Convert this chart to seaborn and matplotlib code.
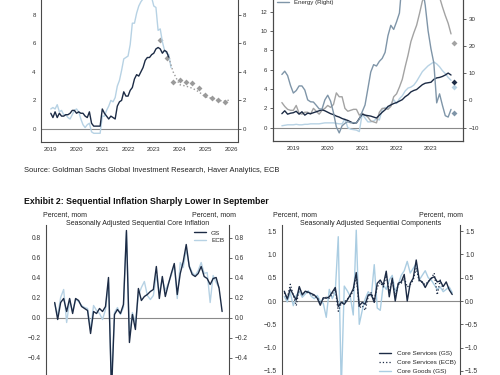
import numpy as np
import matplotlib
matplotlib.use("Agg")
import matplotlib.pyplot as plt
import seaborn as sns

# ---- Exhibit 1 left: headline / core HICP, % yoy (monthly from Jan 2019) ----
tl_headline = [1.4, 1.5, 1.4, 1.7, 1.2, 1.3, 1.0, 1.0, 0.8, 0.7, 1.0, 1.3,
               1.4, 1.2, 0.7, 0.3, 0.1, 0.3, 0.4, -0.2, -0.3, -0.3, -0.3, -0.3,
               0.9, 0.9, 1.3, 1.6, 2.0, 1.9, 2.2, 3.0, 3.4, 4.1, 4.9, 5.0,
               5.1, 5.9, 7.4, 7.4, 8.1, 8.6, 8.9, 9.1, 9.9, 10.6, 10.1, 9.2,
               8.6, 8.5, 6.9, 7.0, 6.1, 5.5, 5.3, 5.2, 4.3]
tl_core = [1.1, 0.8, 1.2, 0.8, 1.1, 0.9, 0.9, 1.0, 1.0, 1.1, 1.3, 1.3,
           1.1, 1.2, 1.1, 1.1, 0.9, 0.8, 1.2, 0.4, 0.2, 0.2, 0.2, 0.2,
           1.4, 1.1, 0.9, 0.7, 0.9, 0.8, 0.7, 1.6, 1.9, 2.0, 2.6, 2.3,
           2.3, 2.7, 2.9, 3.5, 3.8, 3.7, 4.0, 4.3, 4.8, 5.0, 5.0, 5.2,
           5.3, 5.6, 5.7, 5.6, 5.3, 5.5, 5.4, 5.0]
tl_fcst_x = [2023.58, 2023.75, 2024.0, 2024.25, 2024.5, 2024.75, 2025.0,
             2025.25, 2025.5, 2025.75, 2026.0]
tl_fcst = [5.0, 4.0, 3.1, 3.0, 2.85, 2.6, 2.25, 2.15, 2.0, 1.95, 2.05]
tl_proj_x = [2023.25, 2023.5, 2023.75, 2024.0, 2024.25, 2024.5, 2024.75,
             2025.0, 2025.25, 2025.5, 2025.75]
tl_proj = [6.2, 5.0, 3.3, 3.4, 3.3, 3.2, 2.9, 2.4, 2.2, 2.0, 1.9]
tl_years = [2019, 2020, 2021, 2022, 2023, 2024, 2025, 2026]

# ---- Exhibit 1 right: components, % yoy (monthly Sep 2018 - Aug 2023) ----
tr_services = [1.45, 1.75, 1.4, 1.5,
               1.55, 1.7, 1.4, 1.65, 1.3, 1.5, 1.45, 1.55, 1.65, 1.75, 1.85, 1.75,
               1.6, 1.45, 1.35, 1.2, 1.1, 0.95, 0.85, 0.75, 0.6, 0.45, 0.5, 0.95,
               1.4, 1.3, 1.25, 1.2, 1.1, 1.0, 1.3, 1.6, 1.85, 2.2, 2.35, 2.5,
               2.6, 2.75, 2.9, 3.2, 3.4, 3.7, 3.85, 3.95, 4.2, 4.45, 4.6, 4.65,
               4.7, 5.0, 5.15, 5.2, 5.3, 5.45, 5.65, 5.45]
tr_goods = [0.2, 0.25, 0.3, 0.3,
            0.3, 0.35, 0.3, 0.3, 0.35, 0.35, 0.4, 0.4, 0.4, 0.4, 0.45, 0.5,
            0.5, 0.5, 0.5, 0.45, 0.4, 0.4, 0.9, 0.0, -0.15, -0.2, -0.25, -0.4,
            1.4, 1.0, 0.6, 0.6, 0.7, 0.9, 0.8, 1.9, 2.1, 2.0, 2.4, 2.9,
            2.5, 3.0, 3.3, 3.8, 4.1, 4.2, 4.4, 4.8, 5.3, 5.8, 6.1, 6.4,
            6.6, 6.8, 6.6, 6.3, 5.9, 5.6, 5.2, 4.9]
tr_food = [2.6, 2.2, 1.9, 1.8,
           1.8, 2.3, 1.5, 1.4, 1.6, 1.6, 1.4, 2.0, 1.7, 1.4, 1.8, 2.0,
           2.3, 2.1, 2.4, 3.6, 3.2, 3.2, 2.0, 1.7, 1.8, 1.9, 1.9, 1.3,
           1.5, 1.3, 1.1, 0.7, 0.6, 0.5, 1.6, 2.0, 2.0, 1.9, 2.2, 3.2,
           3.5, 4.2, 5.0, 6.3, 7.5, 8.9, 9.8, 10.6, 11.8, 13.1, 13.6, 13.8,
           14.1, 15.0, 15.5, 13.5, 12.5, 11.6, 10.8, 9.7]
tr_energy = [9.5, 10.7, 9.1, 5.5,
             2.7, 3.6, 5.3, 5.3, 3.8, 0.2, -0.5, -0.6, -1.8, -3.1, -3.2, 0.2,
             1.9, -0.3, -4.5, -9.7, -11.9, -9.3, -8.4, -7.8, -8.2, -8.2, -8.3, -6.9,
             -4.2, -1.7, 4.3, 10.4, 13.1, 12.6, 14.3, 15.4, 17.6, 23.7, 27.5, 26.0,
             28.8, 32.0, 44.4, 37.5, 39.1, 42.0, 39.6, 38.6, 40.7, 41.5, 34.9, 25.5,
             18.9, 13.7, -0.9, 2.4, -1.8, -5.6, -6.1, -3.3]
tr_sep = {"services": 4.75, "goods": 4.2, "food": 8.8, "energy": -4.6}
tr_years = [2019, 2020, 2021, 2022, 2023]

# ---- Exhibit 2 left: sequential core, % mom SA (Jan 2019 - Sep 2023) ----
bl_gs = [0.15, -0.02, 0.15, 0.19, 0.06, 0.19, 0.04, 0.19, 0.17, 0.11, 0.09, 0.07,
         -0.16, 0.06, 0.04, 0.09, 0.06, 0.11, 0.40, -0.75, 0.03, 0.08, 0.04, 0.13,
         0.87, -0.25, 0.03, -0.12, 0.29, 0.17, 0.21, 0.23, 0.26, 0.28, 0.51, 0.19,
         0.41, 0.21, 0.33, 0.44, 0.54, 0.23, 0.44, 0.56, 0.73, 0.51, 0.43, 0.41,
         0.44, 0.51, 0.41, 0.39, 0.33, 0.39, 0.40, 0.29, 0.06]
bl_ecb = [0.14, 0.02, 0.20, 0.28, -0.05, 0.17, 0.06, 0.18, 0.16, 0.12, 0.10, 0.09,
          -0.12, 0.12, 0.07, 0.04, -0.02, 0.08, 0.35, -0.65, 0.05, 0.10, 0.03, 0.10,
          0.85, -0.18, 0.05, -0.06, 0.22, 0.30, 0.36, 0.22, 0.18, 0.22, 0.42, 0.25,
          0.38, 0.27, 0.34, 0.42, 0.52, 0.19, 0.55, 0.50, 0.68, 0.52, 0.45, 0.42,
          0.47, 0.55, 0.44, 0.45, 0.15, 0.42, 0.35, 0.30]

# ---- Exhibit 2 right: sequential components, % mom SA ----
br_serv_gs = [0.21, 0.04, 0.26, 0.13, 0.02, 0.31, 0.13, 0.21, 0.19, 0.16, 0.13, 0.06,
              -0.09, 0.07, 0.06, 0.09, 0.19, 0.29, -0.12, -0.03, -0.07, 0.02, 0.13, 0.26,
              0.61, -0.10, -0.03, -0.07, 0.13, 0.14, -0.03, 0.38, 0.45, 0.34, 0.64, 0.09,
              0.49, 0.00, 0.38, 0.41, 0.57, 0.00, 0.38, 0.49, 0.88, 0.45, 0.41, 0.29,
              0.41, 0.49, 0.52, 0.41, 0.43, 0.31, 0.41, 0.24, 0.14]
br_serv_ecb = [0.18, 0.06, 0.36, 0.12, -0.10, 0.28, 0.15, 0.20, 0.17, 0.15, 0.10, 0.08,
               -0.05, 0.05, 0.08, 0.06, 0.15, 0.25, -0.22, -0.05, -0.02, 0.04, 0.10, 0.22,
               0.55, -0.15, -0.10, -0.20, 0.10, 0.18, 0.02, 0.30, 0.40, 0.30, 0.55, 0.20,
               0.45, 0.10, 0.35, 0.38, 0.50, 0.30, 0.35, 0.45, 0.70, 0.42, 0.40, 0.35,
               0.42, 0.48, 0.60, 0.13, 0.45, 0.25]
br_goods_gs = [0.10, -0.02, 0.18, -0.10, 0.12, 0.20, 0.08, 0.15, 0.22, 0.10, 0.05, 0.12,
               0.00, -0.05, -0.35, 0.25, 0.05, 0.20, 1.38, -1.90, 0.32, 0.22, 0.10, -0.30,
               1.52, -0.50, -0.20, 0.05, 0.20, 0.10, 0.78, -0.15, -0.20, 0.35, 0.25, 0.45,
               0.55, 0.20, 0.35, 0.55, 0.65, 0.85, 0.60, 0.70, 0.80, 0.45, 0.55, 0.65,
               0.50, 0.45, 0.35, 0.25, 0.30, 0.20, 0.25, 0.30, 0.18]

NAVY = "#1c2b45"
LIGHT = "#b7d2e4"
GRAY = "#a3a3a3"
STEEL = "#7f95a8"
SPINE = "#4a4a4a"
ZERO = "#8a8a8a"

sns.set_style("white")
plt.rcParams["font.family"] = ["Liberation Sans", "DejaVu Sans"]

fig = plt.figure(figsize=(5, 3.75), dpi=100)


def px_axes(left, right, top, bottom):
    # pixel box (500x375 canvas) -> figure fraction
    return fig.add_axes([left / 500, 1 - bottom / 375,
                         (right - left) / 500, (bottom - top) / 375])


def style(ax, right_labels=True, size=4.4):
    for side in ["left", "right", "bottom"]:
        ax.spines[side].set_color(SPINE)
        ax.spines[side].set_linewidth(0.8)
        ax.spines[side].set_visible(True)
    ax.spines["top"].set_visible(False)
    ax.tick_params(axis="both", direction="out", length=2.2, width=0.6,
                   colors=SPINE, labelsize=size, pad=1.5, labelcolor="#333333")
    if right_labels:
        ax.tick_params(axis="y", right=True, labelright=True)
    ax.set_xlabel("")
    ax.set_ylabel("")


# ---------------- top left ----------------
ax1 = px_axes(41, 238, -30, 142)
x_tl = 2019 + np.arange(len(tl_headline)) / 12
x_core = 2019 + np.arange(len(tl_core)) / 12
ax1.axhline(0, color=ZERO, lw=0.8)
sns.lineplot(x=x_tl, y=tl_headline, ax=ax1, color=LIGHT, lw=1.0)
sns.lineplot(x=x_core, y=tl_core, ax=ax1, color=NAVY, lw=1.0)
sns.lineplot(x=tl_fcst_x, y=tl_fcst, ax=ax1, color="#9a9a9a", lw=1.0, linestyle=":")
sns.scatterplot(x=tl_proj_x, y=tl_proj, ax=ax1, color="#9a9a9a", marker="D",
                s=9, linewidth=0)
ax1.set_xlim(2018.62, 2026.27)
ax1.set_ylim(-0.91, 11.12)
ax1.set_xticks(tl_years)
ax1.set_yticks([0, 2, 4, 6, 8])
style(ax1)

# ---------------- top right ----------------
ax2 = px_axes(272.7, 463.3, -30, 140.7)
ax2r = ax2.twinx()
x_tr = 2018 + 8 / 12 + np.arange(len(tr_services)) / 12
x_sep = 2023 + 8 / 12
ax2.axhline(0, color=ZERO, lw=0.8)
sns.lineplot(x=x_tr, y=tr_goods, ax=ax2, color=LIGHT, lw=1.0)
sns.lineplot(x=x_tr, y=tr_food, ax=ax2, color=GRAY, lw=1.0)
sns.lineplot(x=x_tr, y=tr_services, ax=ax2, color=NAVY, lw=1.0)
sns.lineplot(x=x_tr, y=tr_energy, ax=ax2r, color=STEEL, lw=1.0, label="Energy (Right)")
for key, col, axx in [("goods", LIGHT, ax2), ("food", GRAY, ax2),
                      ("services", NAVY, ax2), ("energy", STEEL, ax2r)]:
    sns.scatterplot(x=[x_sep], y=[tr_sep[key]], ax=axx, color=col, marker="D",
                    s=9, linewidth=0)
ax2.set_xlim(2018.40, 2023.94)
ax2.set_ylim(-1.344, 16.31)
ax2r.set_ylim(-14.76, 47.77)
ax2.set_xticks(tr_years)
ax2.set_yticks([0, 2, 4, 6, 8, 10, 12])
ax2r.set_yticks([-10, 0, 10, 20, 30])
style(ax2, right_labels=False)
style(ax2r, right_labels=False)
ax2r.tick_params(axis="y", right=True, labelright=True)
ax2r.legend(loc="upper left", bbox_to_anchor=(0.015, 0.835), frameon=False,
            fontsize=4.4, handlelength=2.0, borderaxespad=0.0, borderpad=0.2)

fig.text(0.048, 1 - 170 / 375, "Source: Goldman Sachs Global Investment Research, "
         "Haver Analytics, ECB", fontsize=5.45, va="center", color="#222222")
fig.text(0.048, 1 - 202 / 375,
         "Exhibit 2: Sequential Inflation Sharply Lower In September",
         fontsize=6.3, fontweight="bold", va="center", color="#111111")

# ---------------- bottom left ----------------
ax3 = px_axes(46, 229.3, 225, 395)
x_b = 2019 + np.arange(len(bl_gs)) / 12
x_ecb = 2019 + np.arange(len(bl_ecb)) / 12
ax3.axhline(0, color=ZERO, lw=0.8)
sns.lineplot(x=x_ecb, y=bl_ecb, ax=ax3, color=LIGHT, lw=1.0, label="ECB")
sns.lineplot(x=x_b, y=bl_gs, ax=ax3, color=NAVY, lw=1.0, label="GS")
ax3.set_xlim(2018.758, 2023.867)
ax3.set_ylim(-0.775, 0.925)
ax3.set_yticks([-0.4, -0.2, 0.0, 0.2, 0.4, 0.6, 0.8])
ax3.set_yticklabels(["\u22120.4", "\u22120.2", "0.0", "0.2", "0.4", "0.6", "0.8"])
ax3.set_xticks([])
style(ax3, size=4.8)
h, l = ax3.get_legend_handles_labels()
ax3.legend(h[::-1], l[::-1], loc="upper right", bbox_to_anchor=(1.0, 1.0),
           frameon=False, fontsize=4.6, handlelength=1.8, labelspacing=0.3,
           borderaxespad=0.4)
ax3.text(0.5, (395 - 223.3) / 170, "Seasonally Adjusted Sequential Core Inflation",
         transform=ax3.transAxes, ha="center", va="center", fontsize=5.0,
         color="#222222")

# ---------------- bottom right ----------------
ax4 = px_axes(281.7, 460, 225, 395)
x_s = 2019 + np.arange(len(br_serv_gs)) / 12
x_se = 2019 + np.arange(len(br_serv_ecb)) / 12
ax4.axhline(0, color=ZERO, lw=0.8)
sns.lineplot(x=x_s, y=br_goods_gs, ax=ax4, color="#abcde2", lw=1.0,
             label="Core Goods (GS)")
sns.lineplot(x=x_se, y=br_serv_ecb, ax=ax4, color=NAVY, lw=0.9, linestyle=":",
             label="Core Services (ECB)")
sns.lineplot(x=x_s, y=br_serv_gs, ax=ax4, color=NAVY, lw=1.0,
             label="Core Services (GS)")
ax4.set_xlim(2018.928, 2023.883)
ax4.set_ylim(-2.017, 1.631)
ax4.set_yticks([-1.5, -1.0, -0.5, 0.0, 0.5, 1.0, 1.5])
ax4.set_yticklabels(["\u22121.5", "\u22121.0", "\u22120.5", "0.0", "0.5", "1.0", "1.5"])
ax4.set_xticks([])
style(ax4, size=4.8)
h, l = ax4.get_legend_handles_labels()
ax4.legend(h[::-1], l[::-1], loc="lower right", bbox_to_anchor=(1.0, 0.095),
           frameon=False, fontsize=4.6, handlelength=1.9, labelspacing=0.6,
           borderaxespad=0.3)
ax4.text(0.5, (395 - 223.3) / 170, "Seasonally Adjusted Sequential Components",
         transform=ax4.transAxes, ha="center", va="center", fontsize=5.0,
         color="#222222")

for left_px, right_px in [(43, 236), (273, 463)]:
    fig.text(left_px / 500, 1 - 214.7 / 375, "Percent, mom", fontsize=5.0,
             va="center", ha="left", color="#222222")
    fig.text(right_px / 500, 1 - 214.7 / 375, "Percent, mom", fontsize=5.0,
             va="center", ha="right", color="#222222")

fig.savefig("out.png", dpi=100)
